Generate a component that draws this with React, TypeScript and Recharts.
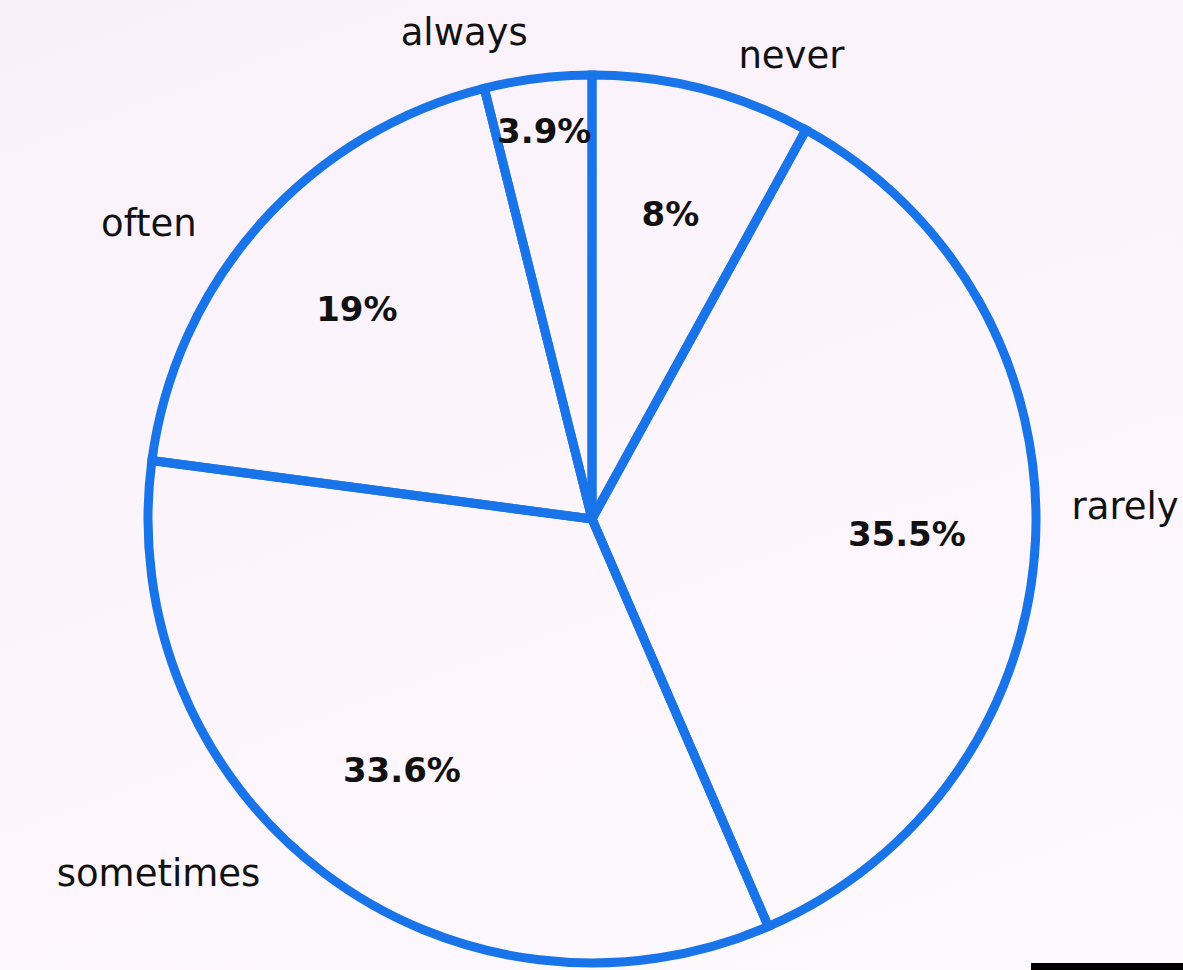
import { Pie, PieChart } from 'recharts';

const answers = ['never', 'rarely', 'sometimes', 'often', 'always'];
const shares = [8, 35.5, 33.6, 19, 3.9];

const data = answers.map((name, i) => ({ name, value: shares[i] }));

const RAD = Math.PI / 180;
const BLUE = '#1874e8';
const FONT = '"DejaVu Sans", "Noto Sans", sans-serif';

function SliceLabel(props: any) {
  const { cx, cy, midAngle, outerRadius, name, value } = props;
  const cos = Math.cos(-midAngle * RAD);
  const sin = Math.sin(-midAngle * RAD);

  // rim point of the slice; the name is hung off it
  const ax = cx + outerRadius * cos;
  const ay = cy + outerRadius * sin;
  let ox = ax;
  let oy = ay;
  let anchor: 'start' | 'end' = 'start';
  if (Math.abs(cos) < 0.2) {
    // near the top: sit above the rim
    ox = ax - 10;
    oy = ay - 46;
    anchor = 'end';
  } else if (cos > 0) {
    ox = ax + 36;
    oy = ay - 33;
  } else {
    ox = ax - 64;
    anchor = 'end';
  }

  // tiny slices push their number out toward the rim
  const rIn = value < 5 ? outerRadius * 0.88 : outerRadius * 0.71;
  const ix = cx + rIn * cos;
  const iy = cy + rIn * sin;

  return (
    <g>
      <text
        x={ox}
        y={oy}
        textAnchor={anchor}
        dominantBaseline="central"
        fontFamily={FONT}
        fontSize={37}
        fill="#111"
      >
        {name}
      </text>
      <text
        x={ix}
        y={iy}
        textAnchor="middle"
        dominantBaseline="central"
        fontFamily={FONT}
        fontSize={34}
        fontWeight={700}
        fill="#111"
      >
        {`${value}%`}
      </text>
    </g>
  );
}

export default function App() {
  return (
    <div
      style={{
        position: 'absolute',
        top: 0,
        left: 0,
        width: 1183,
        height: 970,
        overflow: 'hidden',
        background: 'linear-gradient(160deg, #faf0fa 0%, #fcf6fc 55%, #fdf9fd 100%)',
      }}
    >
      <PieChart width={1183} height={970} margin={{ top: 0, right: 0, bottom: 0, left: 0 }}>
        <Pie
          data={data}
          dataKey="value"
          nameKey="name"
          cx={592}
          cy={519}
          outerRadius={444}
          startAngle={90}
          endAngle={-270}
          fill="transparent"
          stroke={BLUE}
          strokeWidth={9}
          label={SliceLabel}
          labelLine={false}
          isAnimationActive={false}
        />
      </PieChart>
      <div
        style={{
          position: 'absolute',
          left: 1031,
          top: 963,
          width: 152,
          height: 7,
          background: '#000',
        }}
      />
    </div>
  );
}
